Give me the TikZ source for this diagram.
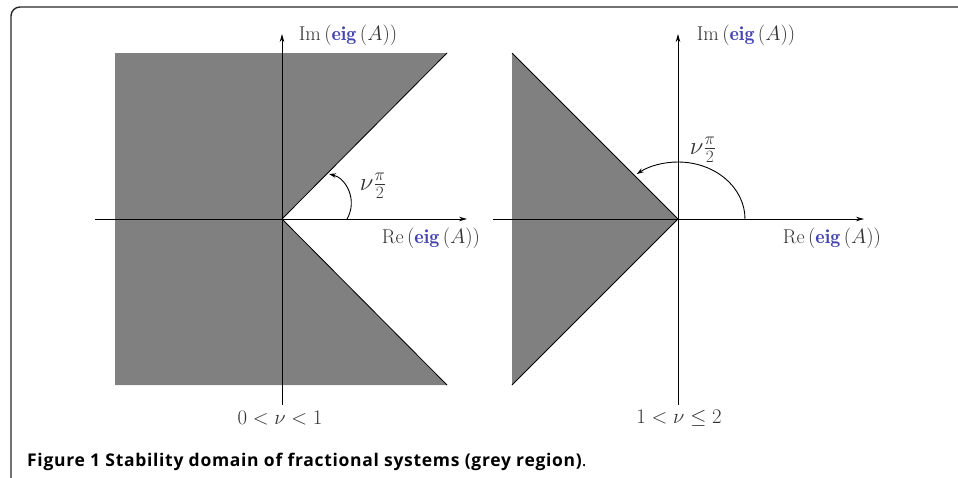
\documentclass[tikz,border=0pt]{standalone}
\usepackage{fontspec}
\newfontfamily\capfont[LetterSpace=4]{Open Sans}
\usetikzlibrary{arrows.meta}
\definecolor{eigblue}{RGB}{70,70,175}
\definecolor{greyfill}{RGB}{128,128,128}
\definecolor{framecol}{RGB}{40,40,40}
\definecolor{txt}{RGB}{50,50,50}
\newcommand{\eigA}{\textcolor{eigblue}{\mathbf{eig}}\left(A\right)}
\begin{document}
\begin{tikzpicture}[x=1pt,y=-1pt,
  axisline/.style={line width=0.9pt, -{Stealth[length=8pt,width=4.5pt]}},
  anglearc/.style={line width=0.9pt, -{Stealth[length=7pt,width=4.5pt]}},
  edge/.style={line width=0.8pt},
  lbl/.style={text=txt, font=\fontsize{20}{24}\selectfont, inner sep=0pt},
  anglbl/.style={text=txt, font=\fontsize{27}{30}\selectfont, inner sep=0pt}]
\useasboundingbox (0,0) rectangle (958,477);
\begin{scope}
\clip (0,0) rectangle (958,477);
\draw[framecol, line width=1.4pt, rounded corners=9pt] (11,7) rectangle (980,492);
\end{scope}

% ---------- left panel ----------
\coordinate (O1) at (282,219);
\coordinate (A1) at (447,53);
\coordinate (B1) at (447,385);
\fill[greyfill] (115,53) -- (A1) -- (O1) -- (B1) -- (115,385) -- cycle;
\draw[edge] (A1) -- (O1) -- (B1);
\coordinate (X1s) at (95,219);
\coordinate (X1e) at (467,219);
\coordinate (Y1s) at (282,405);
\coordinate (Y1e) at (282,34);
\draw[axisline] (X1s) -- (X1e);
\draw[axisline] (Y1s) -- (Y1e);
\coordinate (R1s) at (347,219);
\coordinate (R1e) at (329,174);
\draw[anglearc] (R1s) .. controls (358,200) and (346,178) .. (R1e);
\node[lbl] (im1) at (348,35) {$\mathrm{Im}\left(\eigA\right)$};
\node[lbl] (re1) at (431,238) {$\mathrm{Re}\left(\eigA\right)$};
\node[anglbl] (ang1) at (373,186) {$\nu\frac{\pi}{2}$};
\node[lbl] (cond1) at (280,418) {$0<\nu<1$};

% ---------- right panel ----------
\coordinate (O2) at (678,219);
\coordinate (A2) at (512,53);
\coordinate (B2) at (512,385);
\fill[greyfill] (A2) -- (O2) -- (B2) -- cycle;
\draw[edge] (A2) -- (O2) -- (B2);
\coordinate (X2s) at (493,219);
\coordinate (X2e) at (864,219);
\coordinate (Y2s) at (678,405);
\coordinate (Y2e) at (678,34);
\draw[axisline] (X2s) -- (X2e);
\draw[axisline] (Y2s) -- (Y2e);
\coordinate (R2s) at (745,219);
\draw[anglearc] (R2s) arc[start angle=0, end angle=-128, x radius=67, y radius=57];
\node[lbl] (im2) at (746,35) {$\mathrm{Im}\left(\eigA\right)$};
\node[lbl] (re2) at (832,238) {$\mathrm{Re}\left(\eigA\right)$};
\node[anglbl] (ang2) at (703,150) {$\nu\frac{\pi}{2}$};
\node[lbl] (cond2) at (679,418) {$1<\nu\leq 2$};

% ---------- caption ----------
\node[anchor=base west, inner sep=0pt, font=\capfont\fontsize{17.5}{20}\selectfont] (cap) at (27,466)
  {\textbf{Figure 1 Stability domain of fractional systems (grey region)}.};
\end{tikzpicture}
\end{document}
